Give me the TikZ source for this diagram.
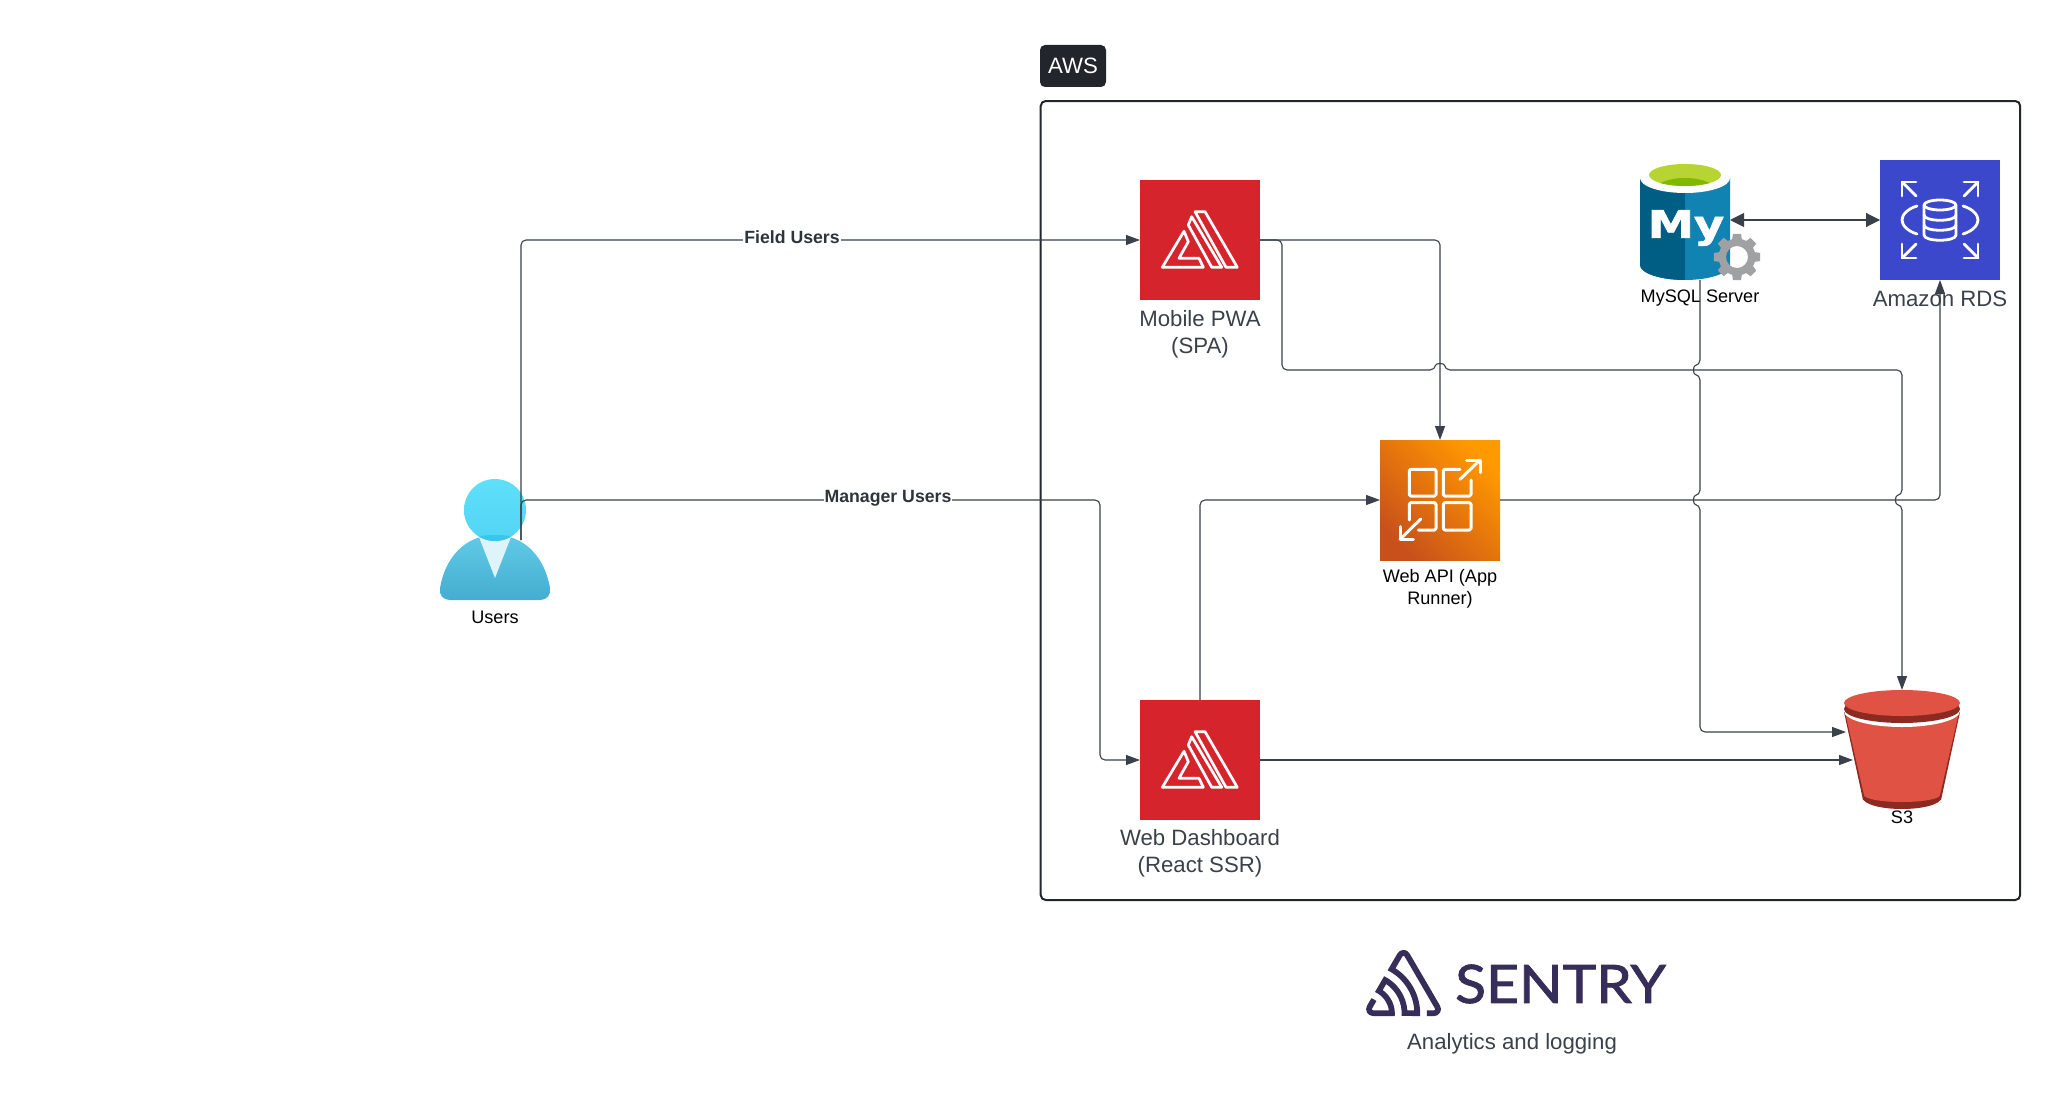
\documentclass[tikz,border=0pt]{standalone}
\usepackage{fontspec}
\setmainfont{Liberation Sans}
\newfontfamily\sentryfont[FakeBold=1.5]{Lato}
\newfontfamily\myfont[FakeBold=1.5]{DejaVu Sans Bold}
\usetikzlibrary{arrows.meta,calc,svg.path}
\definecolor{linec}{HTML}{3A414A}
\definecolor{labelc}{HTML}{3A414A}
\definecolor{amp}{HTML}{D6242D}
\definecolor{rdsc}{HTML}{3B48CC}
\definecolor{sen}{HTML}{362D59}
\definecolor{awsc}{HTML}{22262C}
\definecolor{webtop}{HTML}{FF9900}
\definecolor{webbot}{HTML}{C8511B}
\definecolor{mysqlr}{HTML}{1083B3}
\definecolor{mysqll}{HTML}{005E85}
\definecolor{mysqlg}{HTML}{B8D432}
\definecolor{mysqld}{HTML}{7FBA00}
\definecolor{gearc}{HTML}{A0A1A2}
\definecolor{s3d}{HTML}{8C2A22}
\definecolor{s3r}{HTML}{E05243}
\definecolor{userbt}{HTML}{60CBE8}
\definecolor{userbb}{HTML}{45ADCF}
\definecolor{usertri}{HTML}{DFF3FA}
\definecolor{userht}{HTML}{5EE0FA}
\definecolor{userhb}{HTML}{52D4F4}
\definecolor{useroverlap}{HTML}{38C6EC}
\tikzset{
  iconbox/.style={minimum size=120pt,inner sep=0pt,outer sep=0pt,draw=none},
  conn/.style={draw=linec,line width=1.1pt,rounded corners=5pt,-{Triangle[length=14pt,width=10pt]}},
  lbl/.style={text=labelc,font=\fontsize{22.2}{27}\selectfont,align=center,inner sep=0pt},
  blbl/.style={text=black,font=\fontsize{18.1}{21.5}\selectfont,align=center,inner sep=0pt},
  edgelbl/.style={fill=white,text=labelc!80!black,font=\fontsize{17.7}{20}\selectfont\bfseries,inner sep=1pt},
  ico/.style={draw=white,line width=2.7pt,line join=round,line cap=round},
}
\newcommand{\amplifyicon}[2]{%
  \begin{scope}[shift={(#1,#2)},ico]
    \draw (-16,-8.7)--(-37.7,27.3)--(3.3,27.3)--(-1,18.3)--(-21,18.3)--(-11.7,1.7)--cycle;
    \draw (-11.7,-15)--(11.7,27.3)--(21.7,27.3)--(-8.3,-23.3)--cycle;
    \draw (-5,-28.3)--(5,-28.3)--(37.3,27.3)--(26,27.3)--cycle;
  \end{scope}}
\begin{document}
\begin{tikzpicture}[x=1pt,y=-1pt]
\useasboundingbox (0,0) rectangle (2070,1116);
\fill[white] (0,0) rectangle (2070,1116);

% container
\node[draw=awsc,line width=2pt,rounded corners=5pt,minimum width=979.5pt,minimum height=799pt,inner sep=0pt,anchor=north west] (aws) at (1039.7,100) {};
\node[fill=awsc,rounded corners=5pt,text=white,font=\fontsize{22.2}{26}\selectfont,minimum width=66pt,minimum height=42pt,inner sep=0pt] (awslabel) at (1073,66) {AWS};

% nodes
\node[iconbox,fill=amp] (mobile) at (1200,240) {};
\amplifyicon{1200}{240}
\node[lbl] (mobilet) at (1200,334) {Mobile PWA\\(SPA)};
\node[iconbox,fill=amp] (dash) at (1200,760) {};
\amplifyicon{1200}{760}
\node[lbl] (dasht) at (1200,853) {Web Dashboard\\(React SSR)};

\node[iconbox,shading=axis,top color=webtop,bottom color=webbot,shading angle=-45] (web) at (1440,500) {};
\begin{scope}[shift={(1440,500)},ico,line width=3pt]
  \draw[rounded corners=1.5pt] (-30.7,-30.7) rectangle (-4,-4);
  \draw[rounded corners=1.5pt] (20,-30.7)--(3.3,-30.7)--(3.3,-4)--(31,-4)--(31,-20);
  \draw[rounded corners=1.5pt] (3.3,2.7) rectangle (31,30);
  \draw[rounded corners=1.5pt] (-30.7,20)--(-30.7,2.7)--(-4,2.7)--(-4,30)--(-21.7,30);
  \draw (20,-20.7)--(40,-40);
  \draw (26.7,-40)--(40,-40)--(40,-27.3);
  \draw (-19.3,19)--(-40,39.3);
  \draw (-40,26.7)--(-40,39.3)--(-26.7,39.3);
\end{scope}
\node[blbl] (webt) at (1440,589) {Web API (App\\Runner)};

\node[iconbox,fill=rdsc] (rds) at (1940,220) {};
\begin{scope}[shift={(1940,220)},ico,line width=2.8pt]
  \foreach \sx/\sy in {1/1,-1/1,1/-1,-1/-1}{
    \begin{scope}[xscale=\sx,yscale=\sy]
      \draw (38,-38)--(24,-24);
      \draw (24,-38)--(38,-38)--(38,-24);
    \end{scope}}
  \draw (-23,-14) .. controls (-33,-11) and (-38,-5) .. (-38,0) .. controls (-38,5) and (-33,11) .. (-23,14);
  \draw (23,-14) .. controls (33,-11) and (38,-5) .. (38,0) .. controls (38,5) and (33,11) .. (23,14);
  \draw (0,-15) ellipse (16 and 5);
  \draw (-16,-15)--(-16,15) .. controls (-16,22) and (16,22) .. (16,15)--(16,-15);
  \draw (-16,-5) .. controls (-16,2) and (16,2) .. (16,-5);
  \draw (-16,5) .. controls (-16,12) and (16,12) .. (16,5);
\end{scope}
\node[lbl] (rdst) at (1940,299) {Amazon RDS};

% mysql
\coordinate (mysqlS) at (1700,280);
\coordinate (mysqlE) at (1730,220);
\fill[mysqlr] (1640,178)--(1730,178)--(1730,265) .. controls (1730,273) and (1710,280) .. (1685,280) .. controls (1660,280) and (1640,273) .. (1640,265)--cycle;
\fill[mysqll] (1640,178)--(1685,178)--(1685,280) .. controls (1660,280) and (1640,273) .. (1640,265)--cycle;
\fill[white] (1685,178) ellipse (45 and 15);
\fill[mysqlg] (1685,175) ellipse (36 and 11);
\begin{scope}
  \clip (1685,175) ellipse (36 and 11);
  \fill[mysqld] (1685,190) ellipse (30 and 12);
\end{scope}
\node[text=white,inner sep=0pt,font=\myfont\fontsize{38}{38}\selectfont] (my) at (1686,228) {\scalebox{1.22}[1]{My}};
\coordinate (gear) at (1737,257);
\fill[gearc,even odd rule] ($(gear)+(-15:18.5)$)
    \foreach \a in {0,45,...,315}{
      -- ($(gear)+(\a-15:18.5)$) -- ($(gear)+(\a-10:23.5)$) -- ($(gear)+(\a+10:23.5)$) -- ($(gear)+(\a+15:18.5)$) -- ($(gear)+(\a+30:18.5)$)
    } -- cycle (gear) circle (11);
\node[blbl] (mysqlt) at (1700,298) {MySQL Server};

% s3
\coordinate (s3N) at (1902,690);
\coordinate (s3A) at (1846,732);
\coordinate (s3B) at (1853,760);
\fill[s3d] (1902,798) ellipse (39 and 11);
\fill[s3d] (1844,712)--(1960,712)--(1941,800)--(1863,800)--cycle;
\fill[s3r] (1845,712)--(1959,712)--(1940,795)--(1864,795)--cycle;
\fill[s3r] (1902,795) ellipse (38 and 7);
\fill[white] (1902,711) ellipse (58 and 16);
\fill[s3d] (1902,709) ellipse (58 and 14);
\fill[s3r] (1902,703) ellipse (58 and 13);
\node[blbl] (s3t) at (1902,817.5) {S3};

% user
\path[top color=userbt,bottom color=userbb] (440,588) .. controls (445,558) and (465,535) .. (495,535) .. controls (525,535) and (545,558) .. (550,588) .. controls (551,595) and (547,600) .. (540,600)--(450,600) .. controls (443,600) and (439,595) .. (440,588)--cycle;
\fill[usertri] (479,537)--(511,537)--(495,578)--cycle;
\path[top color=userht,bottom color=userhb] (495,510) circle (31);
\begin{scope}
  \clip (495,510) circle (31);
  \fill[useroverlap] (466,541) .. controls (475,536) and (485,535) .. (495,535) .. controls (505,535) and (515,536) .. (524,541)--cycle;
\end{scope}
\coordinate (userS) at (521,540);
\node[blbl] (usert) at (495,617.5) {Users};

% connectors
\path[conn] (userS) -- (521,240) -- (mobile.west);
\path[conn] (userS) -- (521,500) -- (1100,500) -- (1100,760) -- (dash.west);
\path[conn] (mobile.east) -- (1440,240) -- (web.north);
\path[conn] (mobile.east) -- (1282,240) -- (1282,370) -- (1435,370) .. controls (1436,363) and (1444,363) .. (1445,370) -- (1902,370) -- (1902,495) .. controls (1895,496) and (1895,504) .. (1902,505) -- (s3N);
\path[conn] (web.east) -- (1940,500) -- (rds.south);
\path[conn] (dash.north) -- (1200,500) -- (web.west);
\path[conn] (dash.east) -- (s3B);
\path[conn] (mysqlS) -- (1700,365) .. controls (1693,366) and (1693,374) .. (1700,375) -- (1700,495) .. controls (1693,496) and (1693,504) .. (1700,505) -- (1700,732) -- (s3A);
\draw[draw=linec,line width=1.1pt,{Triangle[length=14pt,width=14pt]}-{Triangle[length=14pt,width=14pt]}] (mysqlE) -- (rds.west);

\node[edgelbl] (field) at (792,237.5) {Field Users};
\node[edgelbl] (mgr) at (888,498) {Manager Users};

% sentry
\begin{scope}[shift={(1366,950)},scale=1.5,yscale=-1]
  \fill[sen] svg "M 29 2.26 a 4.67 4.67 0 0 0 -8 0 L 14.42 13.53 A 32.21 32.21 0 0 1 32.17 40.19 H 27.55 A 27.68 27.68 0 0 0 12.09 17.47 L 6 28 a 15.92 15.92 0 0 1 9.23 12.17 H 4.62 A .76 .76 0 0 1 4 39.06 l 2.94 -5 a 10.74 10.74 0 0 0 -3.36 -1.9 l -2.91 5 a 4.54 4.54 0 0 0 1.69 6.24 A 4.66 4.66 0 0 0 4.62 44 H 19.15 a 19.4 19.4 0 0 0 -8 -17.31 l 2.31 -4 A 23.87 23.87 0 0 1 23.76 44 H 36.07 a 35.88 35.88 0 0 0 -16.41 -31.8 l 4.67 -8 a .77 .77 0 0 1 1.05 -.27 c .53 .29 20.29 34.77 20.66 35.17 a .76 .76 0 0 1 -.68 1.13 H 40.6 q .09 1.91 0 3.81 h 4.78 A 4.59 4.59 0 0 0 50 39.43 a 4.49 4.49 0 0 0 -.62 -2.28 Z";
\end{scope}
\node[text=sen,inner sep=0pt,font=\sentryfont\fontsize{53}{53}\selectfont] (sentry) at (1560.5,984) {\scalebox{1.075}[1]{SENTRY}};
\node[lbl] (anal) at (1512,1043.5) {Analytics and logging};
\end{tikzpicture}
\end{document}
